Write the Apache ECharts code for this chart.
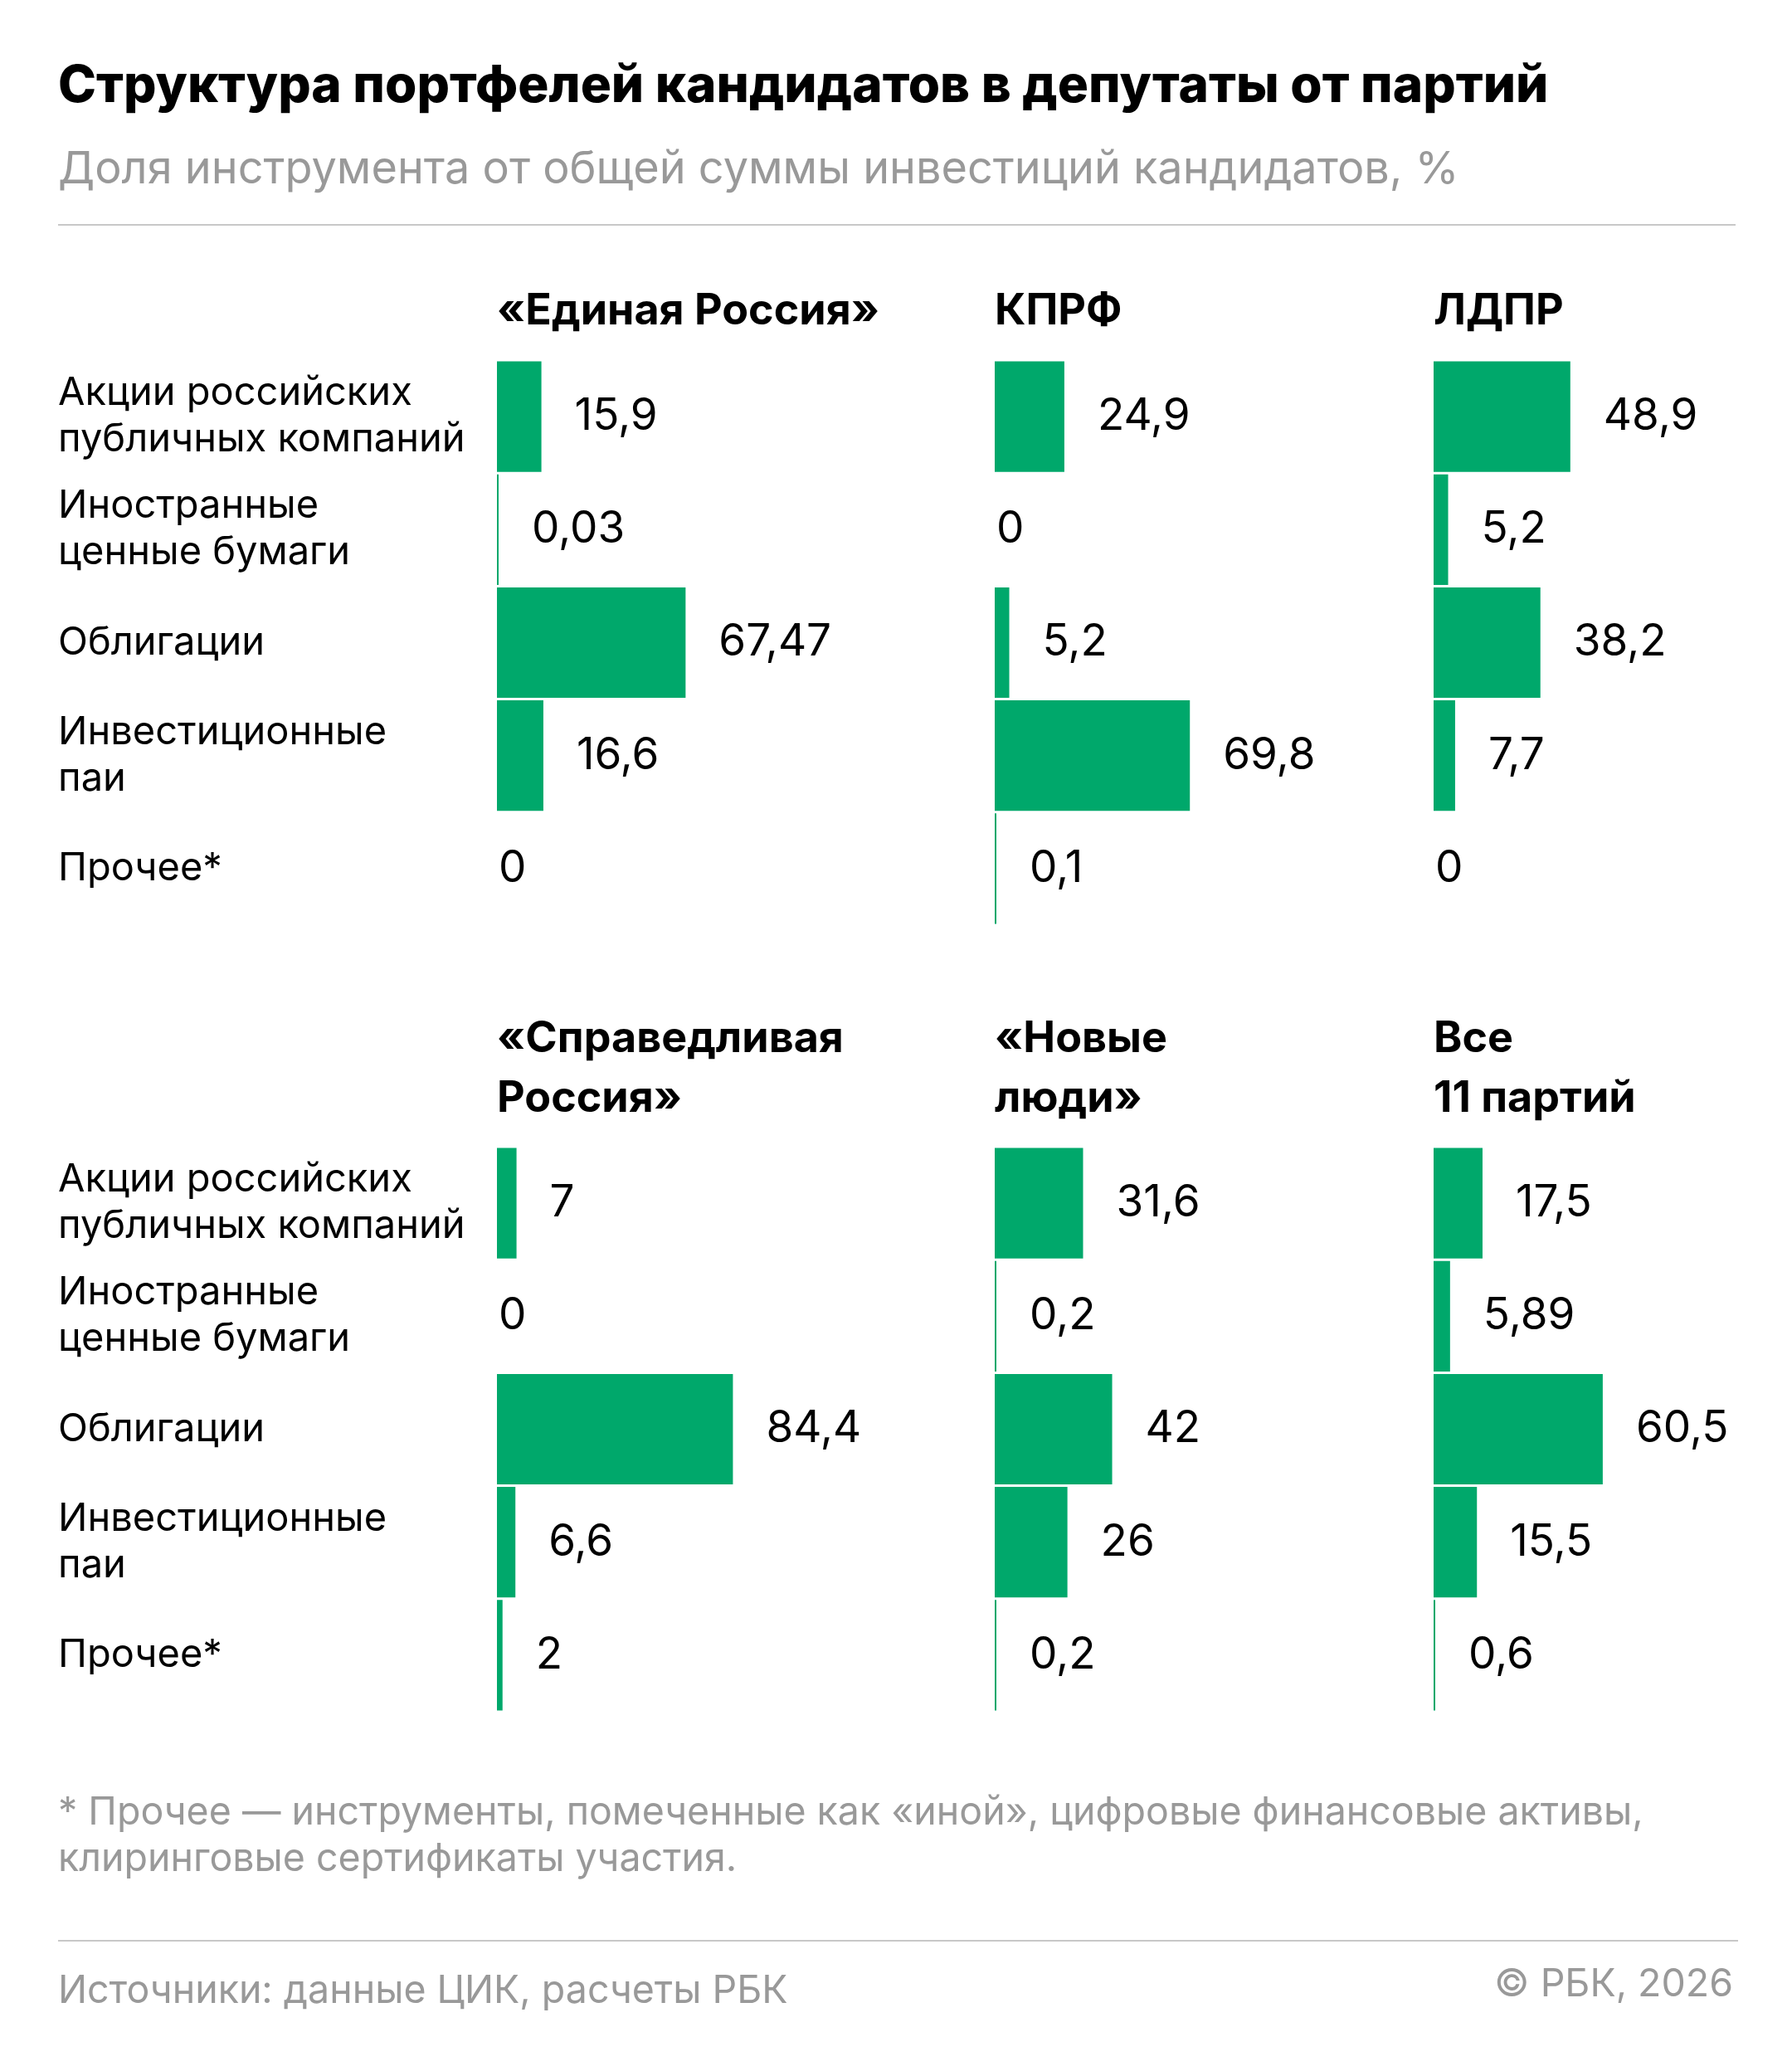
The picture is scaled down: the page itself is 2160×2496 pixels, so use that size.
<!DOCTYPE html>
<html lang="ru">
<head>
    <meta charset="UTF-8">
    <title>Структура портфелей кандидатов</title>
    <script src="https://cdn.jsdelivr.net/npm/echarts@6/dist/echarts.min.js"></script>
    <style>
        html, body { margin: 0; padding: 0; background: #fff; }
    </style>
</head>
<body>
    <div id="main" style="width: 2160px;height: 2496px"></div>
    <script type="text/javascript">
        var categories = ['Акции российских\nпубличных компаний', 'Иностранные\nценные бумаги', 'Облигации', 'Инвестиционные\nпаи', 'Прочее*'];
        var parties = ['«Единая Россия»', 'КПРФ', 'ЛДПР', '«Справедливая\nРоссия»', '«Новые\nлюди»', 'Все\n11 партий'];

        var edRos = [15.9, 0.03, 67.47, 16.6, 0];
        var kprf = [24.9, 0, 5.2, 69.8, 0.1];
        var ldpr = [48.9, 5.2, 38.2, 7.7, 0];
        var spRos = [7, 0, 84.4, 6.6, 2];
        var novLyudi = [31.6, 0.2, 42, 26, 0.2];
        var allParties = [17.5, 5.89, 60.5, 15.5, 0.6];

        var values = [edRos, kprf, ldpr, spRos, novLyudi, allParties];

        var font = 'Inter, "Noto Sans", sans-serif';
        var green = '#00a86b';
        var colLeft = [599, 1199, 1728];
        var rowTop = [434, 1382];
        var gridW = 337;
        var gridH = 681;

        var grids = [], xAxes = [], yAxes = [], series = [], graphics = [];

        function txt(text, x, y, size, weight, color, align) {
            return {
                type: 'text',
                x: x,
                y: y,
                style: {
                    text: text,
                    font: weight + ' ' + size + 'px ' + font,
                    fill: color,
                    align: align || 'left',
                    verticalAlign: 'middle'
                }
            };
        }

        for (var i = 0; i < 6; i++) {
            var col = i % 3, row = Math.floor(i / 3);
            grids.push({left: colLeft[col], top: rowTop[row], width: gridW, height: gridH});
            xAxes.push({
                type: 'value', gridIndex: i, min: 0, max: 100,
                show: false
            });
            yAxes.push({
                type: 'category', gridIndex: i, inverse: true,
                data: categories,
                axisLine: {show: false},
                axisTick: {show: false},
                axisLabel: {
                    show: col === 0,
                    align: 'left',
                    margin: colLeft[0] - 70,
                    fontFamily: font,
                    fontSize: 47,
                    lineHeight: 56,
                    color: '#000'
                }
            });
            series.push({
                type: 'bar',
                xAxisIndex: i,
                yAxisIndex: i,
                barCategoryGap: '2.2%',
                barMinHeight: 2,
                itemStyle: {color: green},
                label: {
                    show: true,
                    position: 'right',
                    distance: 40,
                    fontFamily: font,
                    fontSize: 53,
                    color: '#000',
                    formatter: function (p) {
                        return String(p.value).replace('.', ',');
                    }
                },
                data: values[i].map(function (v) {
                    if (v === 0) {
                        // нулевые значения: без полоски, подпись у оси
                        return {value: 0, itemStyle: {color: 'rgba(0,0,0,0)'}, label: {distance: 0}};
                    }
                    return v;
                })
            });

            var lines = parties[i].split('\n');
            var headY = row === 0 ? [375] : [1252, 1324];
            for (var k = 0; k < lines.length; k++) {
                graphics.push(txt(lines[k], colLeft[col], headY[k], 52, 700, '#000'));
            }
        }

        graphics.push(txt('Структура портфелей кандидатов в депутаты от партий', 70, 104, 62, 800, '#000'));
        graphics.push(txt('Доля инструмента от общей суммы инвестиций кандидатов, %', 70, 205, 54, 400, '#999'));
        graphics.push({type: 'rect', shape: {x: 70, y: 270, width: 2022, height: 2}, style: {fill: '#c8c8c8'}});
        graphics.push(txt('* Прочее — инструменты, помеченные как «иной», цифровые финансовые активы,', 70, 2185, 46.5, 400, '#999'));
        graphics.push(txt('клиринговые сертификаты участия.', 70, 2241, 46.5, 400, '#999'));
        graphics.push({type: 'rect', shape: {x: 70, y: 2338, width: 2025, height: 2}, style: {fill: '#c8c8c8'}});
        graphics.push(txt('Источники: данные ЦИК, расчеты РБК', 70, 2400, 46.5, 400, '#999'));
        graphics.push(txt('© РБК, 2026', 2089, 2392, 46.5, 400, '#999', 'right'));

        var option = {
            backgroundColor: '#fff',
            animation: false,
            textStyle: {fontFamily: font},
            grid: grids,
            xAxis: xAxes,
            yAxis: yAxes,
            series: series,
            graphic: graphics
        };

        var myChart = echarts.init(document.getElementById('main'));
        myChart.setOption(option);
    </script>
</body>
</html>
